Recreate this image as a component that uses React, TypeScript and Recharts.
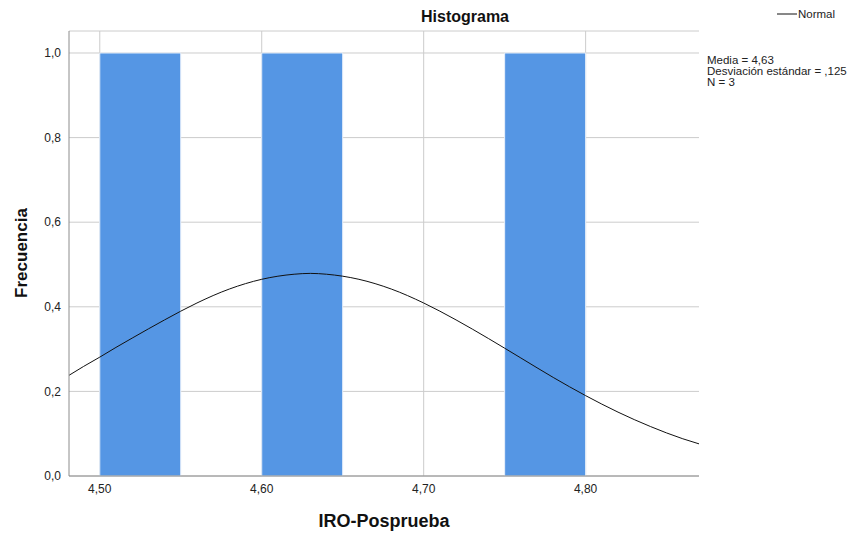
import { ComposedChart, Line, XAxis, YAxis, CartesianGrid, ReferenceArea } from "recharts";

// histogram bins (IRO-Posprueba)
const binStart = [4.5, 4.6, 4.75];
const binEnd = [4.55, 4.65, 4.8];
const binCount = [1, 1, 1];

// normal curve
const curveX = [4.481, 4.49, 4.5, 4.51, 4.52, 4.54, 4.56, 4.58, 4.6, 4.62, 4.63, 4.64, 4.66, 4.68, 4.7, 4.72, 4.74, 4.76, 4.78, 4.8, 4.82, 4.84, 4.86, 4.87];
const curveY = [0.238, 0.259, 0.281, 0.304, 0.326, 0.369, 0.409, 0.442, 0.465, 0.477, 0.479, 0.477, 0.465, 0.442, 0.409, 0.369, 0.325, 0.279, 0.233, 0.19, 0.151, 0.117, 0.088, 0.076];

const xTicks = [4.5, 4.6, 4.7, 4.8];
const yTicks = [0, 0.2, 0.4, 0.6, 0.8, 1.0];
const xDomain = [4.481, 4.87];

const statsLines = ["Media = 4,63", "Desviación estándar = ,125", "N = 3"];

const FONT = "'Liberation Sans', Arial, sans-serif";

export default function App() {
  const data = curveX.map((x, i) => ({ x, y: curveY[i] }));
  const comma = (d: number) => (v: number) => v.toFixed(d).replace(".", ",");

  // only the tick positions, no border line at the right edge
  const vertGen = (props: any) => {
    const scale = props?.xAxis?.scale;
    if (typeof scale === "function") return xTicks.map((t) => scale(t));
    const { left, width } = props.offset;
    return xTicks.map((t) => left + ((t - xDomain[0]) / (xDomain[1] - xDomain[0])) * width);
  };

  return (
    <div style={{ position: "relative", width: 858, height: 533, fontFamily: FONT, background: "#fff" }}>
      <style>{`body{margin:0}`}</style>
      <ComposedChart
        width={858}
        height={533}
        data={data}
        margin={{ top: 31, right: 159, left: 0, bottom: 0 }}
        style={{ position: "absolute", left: 0, top: 0 }}
      >
        <CartesianGrid stroke="#cccccc" verticalCoordinatesGenerator={vertGen} />
        <XAxis
          dataKey="x"
          type="number"
          domain={xDomain}
          allowDataOverflow
          ticks={xTicks}
          tickFormatter={comma(2)}
          tick={{ fontSize: 12, fill: "#222", fontFamily: FONT }}
          tickLine={false}
          axisLine={{ stroke: "#8c8c8c" }}
          height={57}
        />
        <YAxis
          type="number"
          domain={[0, 1.052]}
          allowDataOverflow
          ticks={yTicks}
          tickFormatter={comma(1)}
          tick={{ fontSize: 12, fill: "#222", fontFamily: FONT }}
          tickLine={false}
          axisLine={{ stroke: "#8c8c8c" }}
          width={69}
        />
        {binStart.map((s, i) => (
          <ReferenceArea
            key={i}
            x1={s}
            x2={binEnd[i]}
            y1={0}
            y2={binCount[i]}
            fill="#5596e4"
            fillOpacity={1}
            stroke="#e8f0fb"
            strokeWidth={1}
          />
        ))}
        <Line
          type="monotone"
          dataKey="y"
          stroke="#111"
          strokeWidth={1}
          dot={false}
          activeDot={false}
          isAnimationActive={false}
        />
      </ComposedChart>

      <svg width={858} height={533} style={{ position: "absolute", left: 0, top: 0, pointerEvents: "none" }}>
        <text x={465} y={22} textAnchor="middle" fontSize={16} fontWeight="bold" fill="#111" fontFamily={FONT}>
          Histograma
        </text>
        <text x={384} y={527} textAnchor="middle" fontSize={18} fontWeight="bold" fill="#111" fontFamily={FONT}>
          IRO-Posprueba
        </text>
        <text
          x={27}
          y={253}
          textAnchor="middle"
          fontSize={17}
          fontWeight="bold"
          fill="#111"
          fontFamily={FONT}
          transform="rotate(-90 27 253)"
        >
          Frecuencia
        </text>
        <line x1={777} y1={14} x2={797} y2={14} stroke="#111" strokeWidth={1} />
        <text x={798} y={18} fontSize={11.5} fill="#222" fontFamily={FONT}>
          Normal
        </text>
        {statsLines.map((s, i) => (
          <text key={i} x={707} y={63.5 + i * 11} fontSize={11.5} fill="#222" fontFamily={FONT}>
            {s}
          </text>
        ))}
      </svg>
    </div>
  );
}
